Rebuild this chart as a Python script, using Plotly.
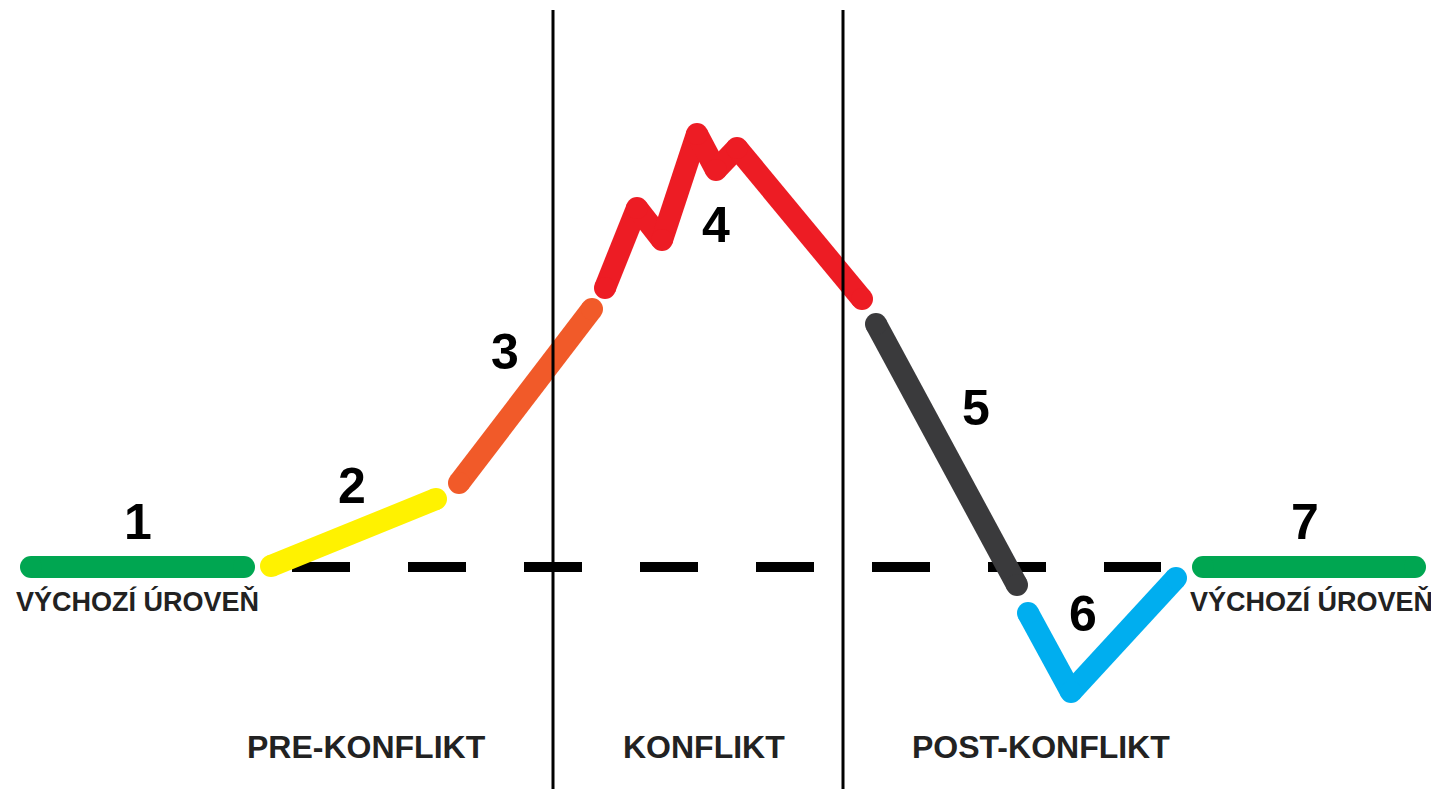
import plotly.graph_objects as go

# Segment coordinates (pixel space: x right, y down)
seg1_x = [31, 244]
seg1_y = [567, 567]
seg2_x = [271, 436]
seg2_y = [566, 499]
seg3_x = [459, 592]
seg3_y = [483, 309]
seg4_x = [605, 637, 662, 697, 716, 737, 862]
seg4_y = [288, 208, 240, 134, 170, 148, 299]
seg5_x = [876, 1017]
seg5_y = [324, 585]
seg6_x = [1028, 1071, 1176]
seg6_y = [613, 692, 578]
seg7_x = [1203, 1415]
seg7_y = [567, 567]

seg_colors = ["#00A651", "#FFF200", "#F15A29", "#ED1C24", "#3A3A3C", "#00AEEF", "#00A651"]

baseline_x = [292, 1161]
baseline_y = [567, 567]

phase_lines_x = [553, 843]

number_labels = ["1", "2", "3", "4", "5", "6", "7"]
number_x = [138, 352, 505, 716, 976, 1083, 1305]
number_y = [522, 486, 352, 225, 408, 614, 522]

level_label = "VÝCHOZÍ ÚROVEŇ"
level_x = [137, 1311]
level_y = [601, 601]

phase_labels = ["PRE-KONFLIKT", "KONFLIKT", "POST-KONFLIKT"]
phase_x = [366, 704, 1041]
phase_y = [747, 747, 747]


def split_pieces(xs, ys):
    """Break a polyline into separate two-point pieces (None-separated) so joins are round via markers."""
    px, py = [], []
    for i in range(len(xs) - 1):
        px += [xs[i], xs[i + 1], None]
        py += [ys[i], ys[i + 1], None]
    return px, py


fig = go.Figure()

# dashed baseline
fig.add_trace(go.Scatter(x=baseline_x, y=baseline_y, mode="lines",
                         line=dict(color="#000000", width=10, dash="58px,58px"),
                         hoverinfo="skip"))

segs = [(seg1_x, seg1_y), (seg2_x, seg2_y), (seg3_x, seg3_y), (seg4_x, seg4_y),
        (seg5_x, seg5_y), (seg6_x, seg6_y), (seg7_x, seg7_y)]
LW = 22
for (sx, sy), c in zip(segs, seg_colors):
    px, py = split_pieces(sx, sy)
    fig.add_trace(go.Scatter(x=px, y=py, mode="lines", connectgaps=False,
                             line=dict(color=c, width=LW), hoverinfo="skip"))
    fig.add_trace(go.Scatter(x=sx, y=sy, mode="markers",
                             marker=dict(color=c, size=LW, line=dict(width=0)),
                             hoverinfo="skip"))

for px in phase_lines_x:
    fig.add_shape(type="line", x0=px, x1=px, y0=10, y1=789, xref="x", yref="y",
                  line=dict(color="#000000", width=3), layer="above")

for t, x, y in zip(number_labels, number_x, number_y):
    fig.add_annotation(x=x, y=y, text=t, showarrow=False, xref="x", yref="y",
                       font=dict(family="Liberation Sans", size=50, color="#000000", weight="bold"))

for x, y in zip(level_x, level_y):
    fig.add_annotation(x=x, y=y, text=level_label, showarrow=False, xref="x", yref="y",
                       font=dict(family="Liberation Sans", size=27, color="#222222", weight="bold"))

for t, x, y in zip(phase_labels, phase_x, phase_y):
    fig.add_annotation(x=x, y=y, text=t, showarrow=False, xref="x", yref="y",
                       font=dict(family="Liberation Sans", size=32, color="#222222", weight="bold"))

# page body has an 8px margin: the plot occupies page pixels 8..1439 / 8..789
fig.update_layout(
    width=1431, height=781,
    margin=dict(l=0, r=0, t=0, b=0),
    paper_bgcolor="white", plot_bgcolor="white",
    showlegend=False,
    xaxis=dict(range=[8, 1439], visible=False, fixedrange=True),
    yaxis=dict(range=[789, 8], visible=False, fixedrange=True),
)

fig.write_html("out.html")
